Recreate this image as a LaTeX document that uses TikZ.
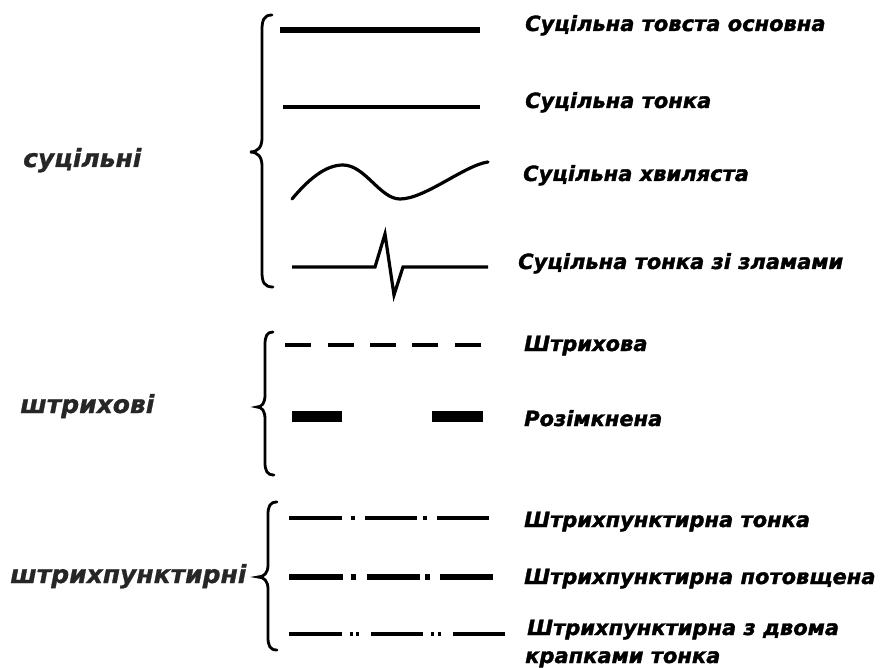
\documentclass[tikz,border=0pt]{standalone}
\usepackage{fontspec}
\setmainfont{DejaVu Sans}
\newfontfamily\heavyfont{DejaVu Sans Bold Oblique}[FakeBold=1.5]
\newfontfamily\grpfont{DejaVu Sans Bold Oblique}[FakeBold=1]
\begin{document}
\begin{tikzpicture}[x=1pt,y=-1pt,
  lbl/.style={anchor=base west,inner sep=0pt,font=\heavyfont\fontsize{21}{25}\selectfont,text=black},
  grp/.style={anchor=base west,inner sep=0pt,font=\grpfont\fontsize{25}{30}\selectfont,text=black!85},
  brc/.style={line width=2.8pt,line cap=round},
  ln/.style={line width=3.2pt}]
\useasboundingbox (0,0) rectangle (880,668);
% braces
\draw[brc] (272,15) .. controls (264,15) and (262,20) .. (262,30) -- (262,138) .. controls (262,147) and (258,152) .. (250,152) .. controls (258,152) and (262,157) .. (262,166) -- (262,272) .. controls (262,282) and (264,287) .. (273,287);
\draw[brc] (273,332) .. controls (267,332) and (265,336) .. (265,345) -- (265,395) .. controls (265,403) and (262,407) .. (257,407) .. controls (262,407) and (265,411) .. (265,419) -- (265,462) .. controls (265,471) and (267,475) .. (274,475);
\draw[brc] (277,502) .. controls (270,502) and (268,506) .. (268,515) -- (268,565) .. controls (268,573) and (264,577) .. (258,577) .. controls (264,577) and (268,581) .. (268,589) -- (268,637) .. controls (268,646) and (270,650) .. (277,650);
% group labels
\node[grp] (g1) at (23,167) {суцільні};
\node[grp] (g2) at (20,413) {штрихові};
\node[grp] (g3) at (10,583) {штрихпунктирні};
% solid lines
\draw[line width=6pt] (280,30) -- (480,30);
\draw[ln] (283,107) -- (480,107);
\draw[ln,line cap=round] (292,199) .. controls (308,180) and (325,165) .. (343,165) .. controls (365,165) and (380,199) .. (400,199) .. controls (425,199) and (465,165) .. (488,162);
\draw[ln,line join=miter] (292,267) -- (375,267) -- (385,234) -- (394,295) -- (403,267) -- (488,267);
% dashed
\foreach \a in {285,328,370,412,455}{\draw[ln] (\a,345) -- ++(26,0);}
\draw[line width=11pt] (292,416) -- (342,416);
\draw[line width=11pt] (432,416) -- (483,416);
% dash-dot thin
\draw[ln] (289,518) -- (342,518);
\draw[ln] (351,518) -- (355,518);
\draw[ln] (365,518) -- (417,518);
\draw[ln] (423,518) -- (427,518);
\draw[ln] (437,518) -- (489,518);
% dash-dot thick
\draw[line width=5.5pt] (289,577) -- (343,577);
\draw[line width=5.5pt] (351,577) -- (356,577);
\draw[line width=5.5pt] (367,577) -- (420,577);
\draw[line width=5.5pt] (425,577) -- (430,577);
\draw[line width=5.5pt] (440,577) -- (493,577);
% dash two dots
\draw[ln] (289,634) -- (342,634);
\draw[ln] (350,634) -- (353,634);
\draw[ln] (356,634) -- (359,634);
\draw[ln] (371,634) -- (423,634);
\draw[ln] (431,634) -- (434,634);
\draw[ln] (438,634) -- (441,634);
\draw[ln] (453,634) -- (505,634);
% labels
\node[lbl] (l1) at (525,31) {Суцільна товста основна};
\node[lbl] (l2) at (525,108) {Суцільна тонка};
\node[lbl] (l3) at (523,181) {Суцільна хвиляста};
\node[lbl] (l4) at (518,269) {Суцільна тонка зі зламами};
\node[lbl] (l5) at (524,351) {Штрихова};
\node[lbl] (l6) at (524,426) {Розімкнена};
\node[lbl] (l7) at (524,527) {Штрихпунктирна тонка};
\node[lbl] (l8) at (524,584) {Штрихпунктирна потовщена};
\node[lbl] (l9) at (527,635) {Штрихпунктирна з двома};
\node[lbl] (l10) at (525,663) {крапками тонка};
\end{tikzpicture}
\end{document}
